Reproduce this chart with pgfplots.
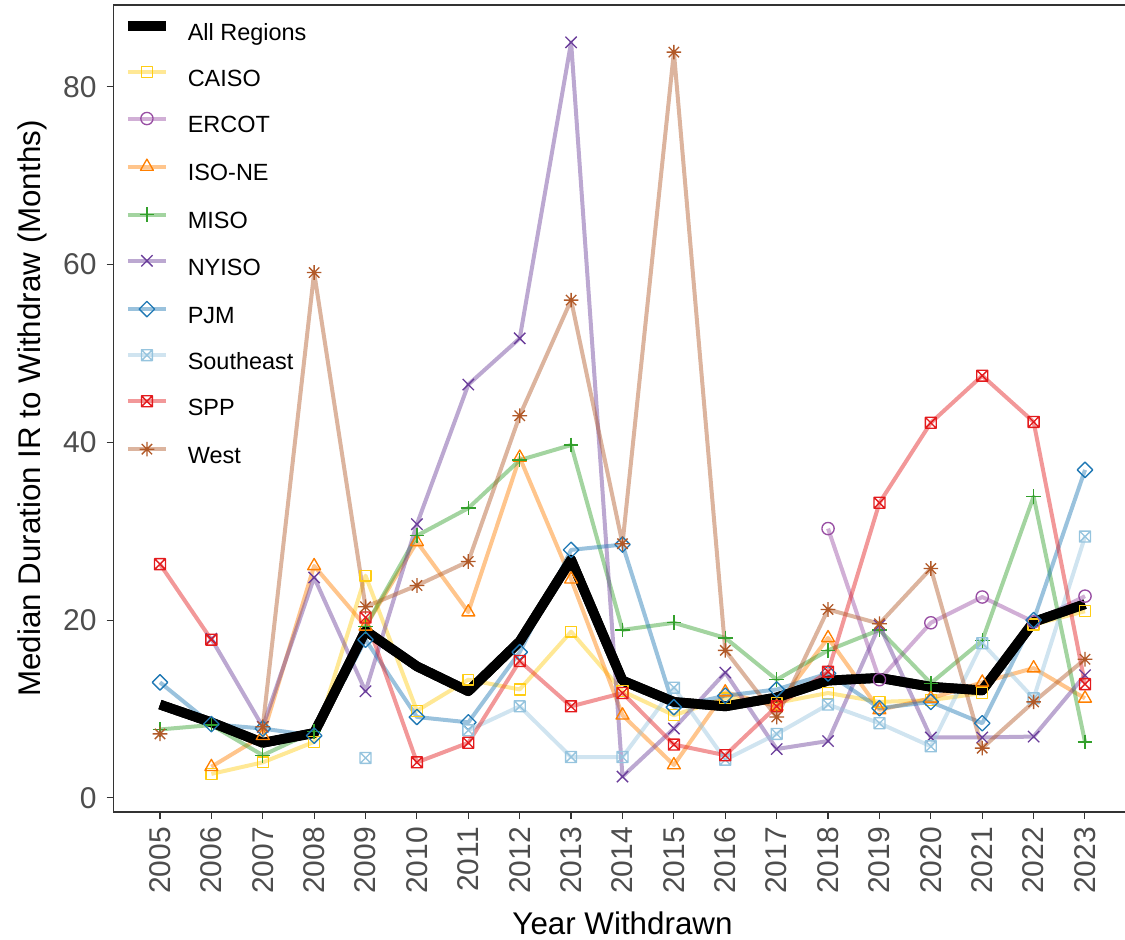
\documentclass[border=0pt]{standalone}
\usepackage{fontspec}
\setmainfont{Liberation Sans}
\usepackage{pgfplots}
\pgfplotsset{compat=1.18}
\usepackage{pgfplotstable}

\definecolor{cCAISO}{RGB}{255,205,20}
\definecolor{cERCOT}{RGB}{152,78,163}
\definecolor{cISONE}{RGB}{255,127,0}
\definecolor{cMISO}{RGB}{51,160,44}
\definecolor{cNYISO}{RGB}{106,61,154}
\definecolor{cPJM}{RGB}{31,120,180}
\definecolor{cSE}{RGB}{150,196,222}
\definecolor{cSPP}{RGB}{227,26,28}
\definecolor{cWest}{RGB}{177,89,40}
\definecolor{axgray}{RGB}{51,51,51}
\definecolor{tkgray}{RGB}{77,77,77}

\pgfdeclareplotmark{sqcross}{%
 \pgfpathrectangle{\pgfqpoint{-\pgfplotmarksize}{-\pgfplotmarksize}}{\pgfqpoint{2\pgfplotmarksize}{2\pgfplotmarksize}}%
 \pgfpathmoveto{\pgfqpoint{-\pgfplotmarksize}{-\pgfplotmarksize}}\pgfpathlineto{\pgfqpoint{\pgfplotmarksize}{\pgfplotmarksize}}%
 \pgfpathmoveto{\pgfqpoint{-\pgfplotmarksize}{\pgfplotmarksize}}\pgfpathlineto{\pgfqpoint{\pgfplotmarksize}{-\pgfplotmarksize}}%
 \pgfusepathqstroke}
\pgfdeclareplotmark{star8}{%
 \pgfpathmoveto{\pgfqpoint{-\pgfplotmarksize}{0pt}}\pgfpathlineto{\pgfqpoint{\pgfplotmarksize}{0pt}}%
 \pgfpathmoveto{\pgfqpoint{0pt}{-\pgfplotmarksize}}\pgfpathlineto{\pgfqpoint{0pt}{\pgfplotmarksize}}%
 \pgfpathmoveto{\pgfqpoint{-.7071\pgfplotmarksize}{-.7071\pgfplotmarksize}}\pgfpathlineto{\pgfqpoint{.7071\pgfplotmarksize}{.7071\pgfplotmarksize}}%
 \pgfpathmoveto{\pgfqpoint{-.7071\pgfplotmarksize}{.7071\pgfplotmarksize}}\pgfpathlineto{\pgfqpoint{.7071\pgfplotmarksize}{-.7071\pgfplotmarksize}}%
 \pgfusepathqstroke}

\pgfplotstableread{
year all caiso ercot isone miso nyiso pjm se spp west
2005 10.5 nan nan nan 7.7 nan 13.0 nan 26.3 7.2
2006 8.5 2.7 nan 3.5 8.2 17.9 8.3 nan 17.8 nan
2007 6.2 4.0 nan 7.0 4.8 8.0 7.8 nan nan 8.0
2008 7.3 6.3 nan 26.1 7.5 24.8 7.0 nan nan 59.1
2009 18.8 25.0 nan 19.3 19.3 12.0 17.8 4.5 20.3 21.5
2010 14.8 9.8 nan 28.8 29.5 30.8 9.1 nan 4.0 23.9
2011 12.0 13.3 nan 20.9 32.6 46.5 8.5 7.6 6.2 26.6
2012 17.6 12.2 nan 38.3 38.0 51.7 16.4 10.3 15.4 43.0
2013 26.8 18.7 nan 24.6 39.7 85.0 27.9 4.6 10.3 56.0
2014 13.2 12.0 nan 9.3 18.9 2.4 28.5 4.6 11.8 28.6
2015 10.8 9.3 nan 3.7 19.7 7.8 10.2 12.4 6.0 83.9
2016 10.3 11.2 nan 11.9 18.0 14.1 11.5 4.3 4.8 16.6
2017 11.3 10.7 nan 10.3 13.3 5.5 12.2 7.2 10.3 9.1
2018 13.2 11.8 30.3 18.0 16.6 6.4 14.0 10.5 14.2 21.2
2019 13.5 10.8 13.3 9.9 18.9 19.4 10.1 8.4 33.2 19.6
2020 12.5 11.0 19.7 11.2 12.9 6.8 10.8 5.8 42.2 25.8
2021 12.1 11.8 22.6 13.0 17.7 6.8 8.4 17.4 47.5 5.6
2022 19.8 19.5 19.8 14.6 33.9 6.9 20.0 11.2 42.3 10.8
2023 21.8 21.0 22.7 11.2 6.3 13.8 36.9 29.4 12.8 15.6
}\data

\pgfplotsset{
 rline/.style={line width=3pt, draw opacity=0.45, line join=round,
   mark options={solid, draw opacity=1, line width=1pt, fill=none}},
}

\begin{document}
\begin{tikzpicture}
\begin{axis}[
 scale only axis, width=763.2pt, height=605.25pt,
 xmin=2004.1, xmax=2023.9, ymin=-1.58, ymax=89.2,
 unbounded coords=jump,
 xtick={2005,...,2023}, ytick={0,20,40,60,80},
 tick pos=left, tick align=outside, major tick length=5.25pt,
 every tick/.style={axgray, line width=0.85pt},
 axis line style={axgray, line width=1.1pt},
 /pgf/number format/1000 sep={},
 /pgf/number format/assume math mode=true,
 ticklabel style={font=\fontsize{22.5}{27}\selectfont, text=tkgray},
 xticklabel style={rotate=90, anchor=east, inner xsep=6pt},
 yticklabel style={anchor=east, inner xsep=7.5pt},
 xlabel={Year Withdrawn},
 ylabel={Median Duration IR to Withdraw (Months)},
 label style={font=\fontsize{23.5}{28}\selectfont},
 xlabel style={at={(rel axis cs:0.5,0)}, anchor=base, yshift=-92.25pt, inner sep=0pt},
 ylabel style={at={(rel axis cs:0,0.5)}, anchor=south, yshift=50pt, inner sep=0pt},
 legend style={at={(rel axis cs:0,1)}, anchor=north west, xshift=7pt, yshift=-11.9pt,
   draw=none, fill=none, inner sep=0pt, outer sep=0pt,
   font=\fontsize{17.6}{21}\selectfont, row sep=15.35pt, column sep=12.75pt,
   nodes={inner sep=0pt, text height=13.2pt, text depth=4.4pt}},
 legend cell align=left,
 legend image code/.code={\draw[mark repeat=2,mark phase=2,#1] plot coordinates {(0pt,6.3pt) (14.25pt,6.3pt) (28.5pt,6.3pt)};},
]
\addplot[black, line width=7.3pt, line join=round, mark=none] table[x=year,y=all]{\data};
\addlegendentry{All Regions}
\addplot[rline, color=cCAISO, mark=square, mark size=4.1pt] table[x=year,y=caiso]{\data};
\addlegendentry{CAISO}
\addplot[rline, color=cERCOT, mark=o, mark size=4.6pt] table[x=year,y=ercot]{\data};
\addlegendentry{ERCOT}
\addplot[rline, color=cISONE, mark=triangle, mark size=5.6pt] table[x=year,y=isone]{\data};
\addlegendentry{ISO-NE}
\addplot[rline, color=cMISO, mark=+, mark size=5.5pt] table[x=year,y=miso]{\data};
\addlegendentry{MISO}
\addplot[rline, color=cNYISO, mark=x, mark size=6pt] table[x=year,y=nyiso]{\data};
\addlegendentry{NYISO}
\addplot[rline, color=cPJM, mark=square, mark size=4.1pt, mark options={solid, draw opacity=1, line width=1pt, fill=none, rotate=45}] table[x=year,y=pjm]{\data};
\addlegendentry{PJM}
\addplot[rline, color=cSE, mark=sqcross, mark size=4.1pt] table[x=year,y=se]{\data};
\addlegendentry{Southeast}
\addplot[rline, color=cSPP, mark=sqcross, mark size=4.1pt] table[x=year,y=spp]{\data};
\addlegendentry{SPP}
\addplot[rline, color=cWest, mark=star8, mark size=5.5pt] table[x=year,y=west]{\data};
\addlegendentry{West}
\addplot[black, line width=7.3pt, line join=round, mark=none, forget plot] table[x=year,y=all]{\data};
\end{axis}
\pgfresetboundingbox
\path[use as bounding box] ([xshift=-85.3pt,yshift=-96pt]current axis.south west) rectangle ([xshift=758.5pt,yshift=609pt]current axis.south west);
\end{tikzpicture}
\end{document}
